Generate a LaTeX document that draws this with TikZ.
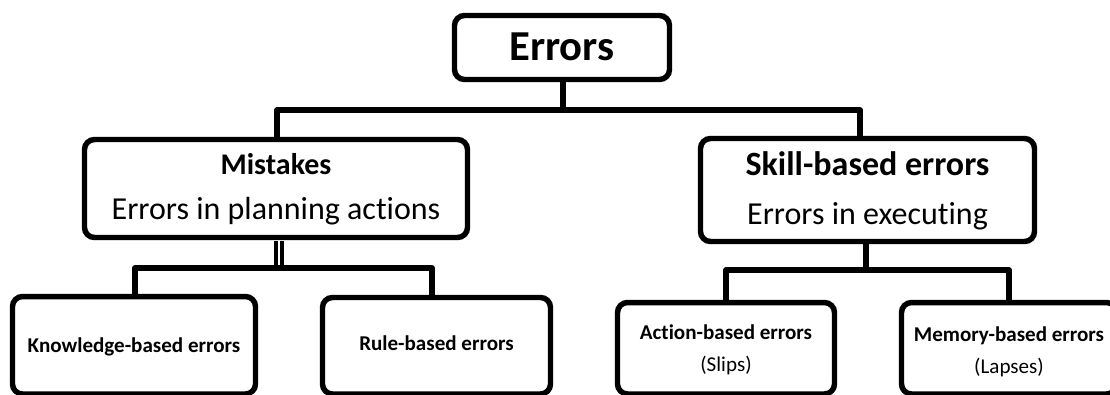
\documentclass[tikz,border=0pt]{standalone}
\usepackage{fontspec}
\setmainfont{Carlito}[Ligatures={NoCommon}]
\begin{document}
\begin{tikzpicture}[x=0.75pt,y=-0.75pt,
  box/.style={draw,line width=4.1pt,rounded corners=7.5pt,inner sep=0pt,outer sep=0pt,fill=white},
  conn/.style={line width=4.1pt,line join=round},
  dbl/.style={line width=3pt,double=white,double distance=1.5pt},
  txt/.style={anchor=base,inner sep=0pt},
  big/.style={font=\bfseries\fontsize{32}{38}\selectfont},
  head/.style={font=\bfseries\fontsize{22.5}{27}\selectfont},
  headb/.style={font=\bfseries\fontsize{25.5}{30}\selectfont},
  sub/.style={font=\fontsize{24}{28}\selectfont},
  small/.style={font=\bfseries\fontsize{15.8}{19}\selectfont},
  smallr/.style={font=\fontsize{15.8}{19}\selectfont},
]
\useasboundingbox (0,0) rectangle (1110,394);
\clip (0,0) rectangle (1110,394);

% boxes
\node[box,minimum width=161.25pt,minimum height=48pt] (err) at (562,47.5) {};
\node[box,minimum width=287.25pt,minimum height=73.5pt] (mis) at (276,188.5) {};
\node[box,minimum width=250.5pt,minimum height=77.25pt] (sk) at (867.5,190) {};
\node[box,minimum width=182.25pt,minimum height=73.1pt] (kn) at (134,345.25) {};
\node[box,minimum width=171pt,minimum height=72.4pt] (ru) at (436.5,345.75) {};
\node[box,minimum width=162.75pt,minimum height=68.6pt] (ac) at (726,348.25) {};
\node[box,minimum width=161.25pt,minimum height=68.6pt] (me) at (1009,348.25) {};

% junction coordinates
\coordinate (tL) at (277,110);
\coordinate (tM) at (563,110);
\coordinate (tR) at (860,110);
\coordinate (mL) at (135,268);
\coordinate (mM) at (279,268);
\coordinate (mR) at (432,268);
\coordinate (sL) at (726,270);
\coordinate (sM) at (866,270);
\coordinate (sR) at (1009,270);

% connectors
\draw[conn] (tM |- err.south) -- (tM);
\draw[conn] (tL |- mis.north) -- (tL) -- (tR) -- (tR |- sk.north);
\draw[dbl] ([yshift=-2.5pt]mM |- mis.south) -- ([yshift=2pt]mM);
\draw[conn] (mL |- kn.north) -- (mL) -- (mR) -- (mR |- ru.north);
\draw[conn] (sM |- sk.south) -- (sM);
\draw[conn] (sL |- ac.north) -- (sL) -- (sR) -- (sR |- me.north);

% texts
\node[txt,big] (errT) at (562,60) {Errors};
\node[txt,head] (misT) at (276,174) {Mistakes};
\node[txt,sub] (misS) at (276,219) {Errors in planning actions};
\node[txt,headb] (skT) at (867.5,175) {Skill-based errors};
\node[txt,sub] (skS) at (867.5,224) {Errors in executing};
\node[txt,small] (knT) at (134,352) {Knowledge-based errors};
\node[txt,small] (ruT) at (436.5,350) {Rule-based errors};
\node[txt,small] (acT) at (726,339) {Action-based errors};
\node[txt,smallr] (acS) at (726,371) {(Slips)};
\node[txt,small] (meT) at (1009,341) {Memory-based errors};
\node[txt,smallr] (meS) at (1009,373) {(Lapses)};
\end{tikzpicture}
\end{document}
